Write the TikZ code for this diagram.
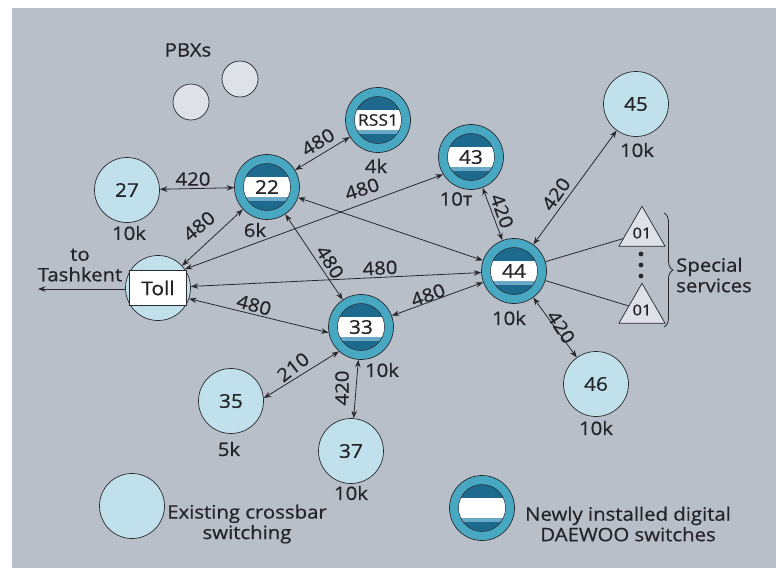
\documentclass[tikz,border=0pt]{standalone}
\usepackage{fontspec}
\setmainfont{Open Sans}[FakeStretch=1.1,FakeBold=0.6]
\usetikzlibrary{arrows.meta,shapes.geometric,decorations.pathreplacing}
\definecolor{bgc}{RGB}{184,191,200}
\definecolor{lightb}{RGB}{192,225,236}
\definecolor{ring}{RGB}{72,168,194}
\definecolor{darkb}{RGB}{30,106,142}
\definecolor{midb}{RGB}{105,168,198}
\definecolor{linec}{RGB}{40,40,45}
\definecolor{textc}{RGB}{35,35,40}
\definecolor{pbxc}{RGB}{222,226,232}
\newcommand\mylabfont{\fontsize{18.5}{20.5}\selectfont}
\newcommand\mynumfont{\fontsize{19}{22}\selectfont}
\newcommand\mytrifont{\fontsize{15}{18}\selectfont}
\begin{document}
\begin{tikzpicture}[x=1pt,y=-1pt,
  oldsw/.style={circle, draw=linec, line width=0.7pt, fill=lightb, minimum size=65pt, inner sep=0pt, font=\mynumfont, text=textc},
  newsw/.style={circle, draw=linec, line width=0.7pt, fill=ring, minimum size=65pt, inner sep=0pt, font=\mynumfont, text=textc,
    path picture={
      \fill[darkb] (path picture bounding box.center) circle (23.5pt);
      \begin{scope}
        \clip (path picture bounding box.center) circle (23.5pt);
        \fill[white] ([shift={(-25pt,-10pt)}]path picture bounding box.center) rectangle ([shift={(25pt,10pt)}]path picture bounding box.center);
        \fill[midb] ([shift={(-25pt,-14pt)}]path picture bounding box.center) rectangle ([shift={(25pt,-10pt)}]path picture bounding box.center);
      \end{scope}
      \draw[linec, line width=0.5pt] (path picture bounding box.center) circle (23.5pt);
    }},
  pbx/.style={circle, draw=linec, line width=0.7pt, fill=pbxc, minimum size=36pt, inner sep=0pt},
  tri/.style={regular polygon, regular polygon sides=3, draw=linec, line width=0.7pt, fill=pbxc, minimum size=48pt, inner sep=0pt, font=\mytrifont, text=textc},
  conn/.style={draw=linec, line width=0.8pt, arrows={Stealth[length=7.5pt,width=5.5pt]-Stealth[length=7.5pt,width=5.5pt]}},
  plainline/.style={draw=linec, line width=0.8pt},
  lab/.style={font=\mylabfont, text=textc, inner sep=0pt},
  caplab/.style={font=\mylabfont, text=textc, inner sep=0pt},
]
\useasboundingbox (0,0) rectangle (776,571);
\fill[white] (0,0) rectangle (776,571);
\fill[bgc] (12,8) rectangle (776,568);

% PBXs
\node[caplab] (pbxt) at (188,50) {PBXs};
\node[pbx] (pbxa) at (191,102) {};
\node[pbx] (pbxb) at (240,79) {};

% existing switches
\node[oldsw] (n27) at (127,190) {27};
\node[oldsw] (n45) at (636,104) {45};
\node[oldsw] (n35) at (231,401) {35};
\node[oldsw] (n37) at (351,451) {37};
\node[oldsw] (n46) at (596,384) {46};
\node[oldsw] (tollc) at (158,288) {};
\node[draw=linec, line width=0.6pt, fill=white, minimum width=57pt, minimum height=35pt, inner sep=0pt, font=\mynumfont, text=textc] (toll) at (158,288) {Toll};

% new switches
\node[newsw] (n22) at (267,187) {22};
\node[newsw, font=\fontsize{16}{20}\selectfont] (rss) at (378,120) {RSS1};
\node[newsw] (n43) at (471,157) {43};
\node[newsw] (n44) at (514,271) {44};
\node[newsw] (n33) at (361,327) {33};

% special services
\node[tri] (t1) at (642,233) {01};
\node[tri] (t2) at (642,310) {01};
\fill[linec] (641,254) circle (2.4pt);
\fill[linec] (641,265) circle (2.4pt);
\fill[linec] (641,276) circle (2.4pt);
\draw[linec, line width=0.8pt, decorate, decoration={brace, amplitude=9pt}] (664,213) -- (664,327);
\node[caplab, align=left, anchor=west] (ss) at (676,275) {Special\\services};

% connections
\coordinate (tash) at (38,289);
\draw[plainline, -{Stealth[length=7.5pt,width=5.5pt]}] (tollc.west) ++(0,1) -- (tash);
\draw[conn] (n27) -- (n22);
\draw[conn] (n22) -- (rss);
\draw[conn] (tollc) -- (n22);
\draw[conn] (tollc.35) -- (n43.212);
\draw[conn] (n22) -- (n44);
\draw[conn] (n22) -- (n33);
\draw[conn] (tollc) -- (n44);
\draw[conn] (tollc.-19) -- (n33.190);
\draw[conn] (n33) -- (n44);
\draw[conn] (n43) -- (n44);
\draw[conn] (n45) -- (n44);
\draw[conn] (n44) -- (n46);
\draw[conn] (n33.228) -- (n35.5);
\draw[conn] (n33) -- (n37);
\draw[plainline] (n44) -- (t1);
\draw[plainline] (n44) -- (t2);

% link labels
\node[lab] (l1) at (193,179) {420};
\node[lab, rotate=32] (l2) at (318,142) {480};
\node[lab, rotate=40] (l3) at (199,226) {480};
\node[lab, rotate=18] (l4) at (362,189) {480};
\node[lab, rotate=-58] (l5) at (330,262) {480};
\node[lab, rotate=3] (l6) at (380,268) {480};
\node[lab, rotate=-15] (l7) at (254,305) {480};
\node[lab, rotate=20] (l8) at (428,295) {480};
\node[lab, rotate=-70] (l9) at (502,211) {420};
\node[lab, rotate=55] (l10) at (556,194) {420};
\node[lab, rotate=-57] (l11) at (561,327) {420};
\node[lab, rotate=38] (l12) at (293,367) {210};
\node[lab, rotate=90] (l13) at (342,388) {420};

% capacities
\node[caplab] (k27) at (129,233) {10k};
\node[caplab] (k22) at (255,230) {6k};
\node[caplab] (krss) at (376,166) {4k};
\node[caplab] (k43) at (456,199) {10т};
\node[caplab] (k45) at (637,150) {10k};
\node[caplab] (k44) at (509,318) {10k};
\node[caplab] (k33) at (382,370) {10k};
\node[caplab] (k35) at (229,449) {5k};
\node[caplab] (k37) at (351,493) {10k};
\node[caplab] (k46) at (596,428) {10k};
\node[caplab, align=center] (tt) at (80,265) {to\\Tashkent};

% legend
\node[oldsw] (legold) at (132,506) {};
\node[caplab, align=center] (lt1) at (247,524) {Existing crossbar\\switching};
\node[newsw] (legnew) at (482,508) {};
\node[caplab, align=center] (lt2) at (628,524) {Newly installed digital\\DAEWOO switches};
\end{tikzpicture}
\end{document}
